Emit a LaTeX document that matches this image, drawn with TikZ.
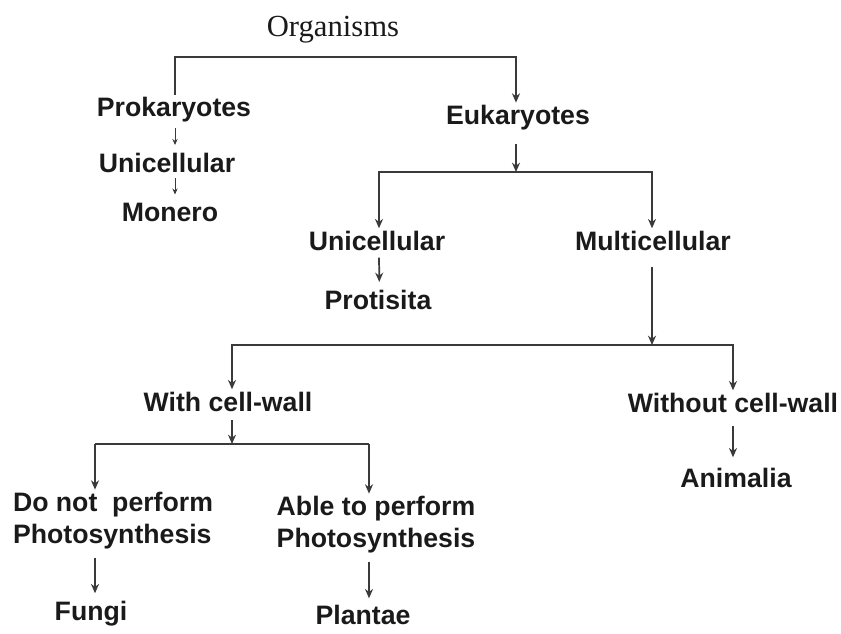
\documentclass[tikz,border=0pt]{standalone}
\usepackage{fontspec}
\setmainfont{Liberation Serif}
\setsansfont{Liberation Sans}
\usepackage{tikz}
\usetikzlibrary{arrows.meta, positioning, calc}
\definecolor{treeline}{HTML}{3A3A3A}
\definecolor{treetext}{HTML}{1A1A1A}

\begin{document}
\begin{tikzpicture}[x=0.75pt, y=-0.75pt,
    lbl/.style={font=\sffamily\bfseries\fontsize{20}{24}\selectfont, text=treetext, inner sep=2pt},
    bar/.style={draw=treeline, line width=1.3pt},
    arr/.style={bar, -{Stealth[length=7pt,width=6pt]}},
    tinyarr/.style={draw=treeline, line width=0.7pt, -{Stealth[length=4.5pt,width=4pt]}}]
  \useasboundingbox (0,0) rectangle (841,633);
  % Root
  \node[font=\fontsize{23}{26}\selectfont, text=treetext] (org) at (333,30) {Organisms};
  % Prokaryotes branch
  \node[lbl] (prok) at (174,110) {Prokaryotes};
  \node[lbl] (uni1) at (167,163) {Unicellular};
  \node[lbl] (mon) at (170,212) {Monero};
  % Eukaryotes branch
  \node[lbl] (euk) at (518,118) {Eukaryotes};
  \node[lbl] (uni2) at (377,241) {Unicellular};
  \node[lbl] (multi) at (653,241) {Multicellular};
  \node[lbl] (prot) at (378,300) {Protisita};
  % Cell wall
  \node[lbl] (withcw) at (228,402) {With cell-wall};
  \node[lbl] (nocw) at (733,403) {Without cell-wall};
  \node[lbl] (anim) at (736,478) {Animalia};
  \node[lbl, align=left] (noph) at (113,521) {Do not\ \ perform\\Photosynthesis};
  \node[lbl, align=left] (ableph) at (376,525) {Able to perform\\Photosynthesis};
  \node[lbl] (fungi) at (91,614) {Fungi};
  \node[lbl] (plant) at (363,615) {Plantae};
  % Bar corners
  \coordinate (b1) at (175,57);
  \coordinate (b2) at (516,172);
  \coordinate (b3) at (652,345);
  \coordinate (b4) at (232,444);
  \coordinate (b4l) at (95,444);
  \coordinate (b4r) at (369,444);
  % Connectors
  \draw[arr] (prok.north -| b1) -- (b1) -| ([xshift=-1.5pt]euk.north);
  \draw[tinyarr, shorten <=2pt, shorten >=4pt] (prok.south -| b1) -- (uni1.north -| b1);
  \draw[tinyarr, shorten <=2pt, shorten >=4pt] (uni1.south -| b1) -- (mon.north -| b1);
  \draw[arr, shorten <=8pt] (euk.south -| b2) -- (b2);
  \draw[arr] (b2) -| ([xshift=1.5pt]uni2.north);
  \draw[arr] (b2) -| ([xshift=-0.75pt]multi.north);
  \draw[arr, shorten <=3pt, shorten >=4pt] ([xshift=1.5pt]uni2.south) -- ([xshift=1pt]prot.north);
  \draw[arr, shorten <=10pt] (multi.south -| b3) -- (b3);
  \draw[arr] (b3) -| ([xshift=3pt]withcw.north);
  \draw[arr] (b3) -| (nocw.north);
  \draw[arr, shorten <=4pt] (withcw.south -| b4) -- (b4);
  \draw[bar] (b4l) -- (b4r);
  \draw[arr] (b4l) -- (b4l |- noph.north);
  \draw[arr] (b4r) -- (b4r |- ableph.north);
  \draw[arr, shorten <=4pt, shorten >=4pt] (noph.south -| b4l) -- (fungi.north -| b4l);
  \draw[arr, shorten <=4pt, shorten >=3pt] (ableph.south -| b4r) -- (plant.north -| b4r);
  \draw[arr, shorten <=8pt, shorten >=6pt] (nocw.south) -- (nocw.south |- anim.north);
\end{tikzpicture}
\end{document}
